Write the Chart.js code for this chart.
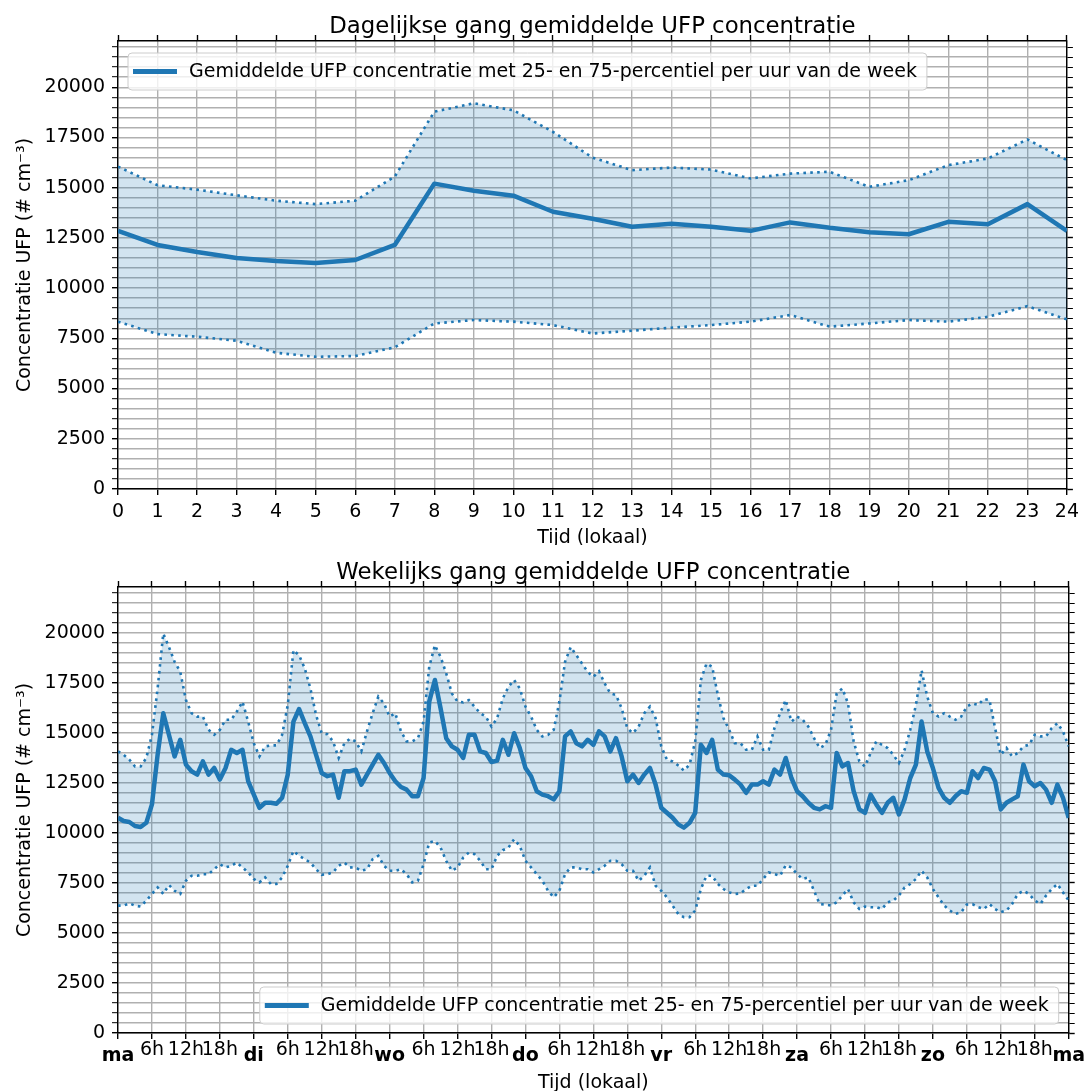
<!DOCTYPE html>
<html lang="nl">
<head>
<meta charset="UTF-8">
<title>Gang gemiddelde UFP concentratie</title>
<script src="https://cdn.jsdelivr.net/npm/chart.js"></script>
<style>
  body { margin: 0; background: #fff; }
  canvas { display: block; }
</style>
</head>
<body>
<canvas id="dagChart" width="1085" height="545"></canvas>
<canvas id="weekChart" width="1085" height="546"></canvas>
<script>
// uur van de dag (0..24)
const dayHours = [0, 1, 2, 3, 4, 5, 6, 7, 8, 9, 10, 11, 12, 13, 14, 15, 16, 17, 18, 19, 20, 21, 22, 23, 24];
const dayMean = [12850, 12150, 11800, 11500, 11350, 11250, 11400, 12150, 15200, 14850, 14600, 13800, 13450,
                 13050, 13200, 13050, 12850, 13270, 13000, 12780, 12680, 13300, 13180, 14180, 12850];
const dayP75 = [16050, 15120, 14900, 14620, 14350, 14180, 14350, 15550, 18780, 19200, 18850, 17780, 16500,
                15870, 16000, 15900, 15460, 15700, 15790, 15040, 15370, 16120, 16450, 17400, 16370];
const dayP25 = [8330, 7710, 7580, 7380, 6780, 6580, 6620, 7050, 8240, 8410, 8330, 8160, 7740,
                7880, 8030, 8160, 8330, 8660, 8080, 8240, 8410, 8330, 8570, 9100, 8440];

// uur van de week (0..168), maandag 0h t/m maandag 0h
const weekMean = [
  10760, 10600, 10550, 10350, 10300, 10510, 11430, 13910, 15990, 14910, 13830, 14660,
  13420, 13090, 12920, 13580, 12920, 13250, 12670, 13250, 14160, 14000, 14160, 12590,
  11920, 11260, 11510, 11510, 11460, 11760, 12920, 15570, 16200, 15490, 14830, 13910,
  13000, 12840, 12920, 11760, 13090, 13090, 13170, 12420, 12920, 13420, 13910, 13500,
  13000, 12590, 12300, 12170, 11840, 11840, 12750, 16570, 17650, 16240, 14740, 14330,
  14160, 13750, 14910, 14910, 14080, 14000, 13550, 13620, 14660, 13910, 14990, 14250,
  13250, 12840, 12090, 11920, 11840, 11680, 12090, 14830, 15080, 14490, 14330, 14660,
  14410, 15080, 14830, 14080, 14740, 13830, 12590, 12920, 12500, 12920, 13250, 12420,
  11260, 11010, 10760, 10430, 10270, 10510, 11010, 14410, 14000, 14660, 13170, 12920,
  12890, 12670, 12420, 12010, 12420, 12420, 12590, 12420, 13170, 12920, 13750, 12750,
  12090, 11840, 11510, 11260, 11180, 11340, 11260, 14000, 13330, 13500, 12090, 11180,
  11010, 11920, 11430, 11010, 11510, 11760, 10930, 11680, 12750, 13420, 15570, 14080,
  13250, 12260, 11760, 11510, 11840, 12090, 12010, 13090, 12750, 13250, 13170, 12590,
  11180, 11510, 11680, 11840, 13420, 12590, 12340, 12500, 12170, 11510, 12420, 11760, 10760
];
const weekP75 = [
  14080, 13910, 13670, 13330, 13330, 13750, 14910, 17230, 19970, 19300, 18560, 18060,
  16650, 15990, 15820, 15820, 15160, 14910, 15160, 15660, 15660, 16070, 16570, 15570,
  14490, 13830, 14330, 14380, 14380, 14910, 16400, 19140, 18890, 18230, 17230, 15900,
  14990, 14940, 14580, 13750, 14490, 14710, 14580, 14080, 15080, 15990, 16820, 16480,
  15820, 15990, 15080, 14580, 14580, 14740, 15570, 18310, 19390, 18810, 17980, 16980,
  16570, 16530, 16650, 16320, 15990, 15820, 15320, 15740, 16730, 17310, 17650, 17230,
  16320, 15820, 15160, 14830, 14910, 15160, 16570, 18560, 19300, 18890, 18470, 18060,
  17810, 18090, 17480, 16980, 16900, 16240, 15240, 14990, 15320, 15990, 16320, 15740,
  14330, 13670, 13580, 13380, 13120, 13420, 14580, 17650, 18470, 18310, 16900, 15740,
  15160, 14490, 14490, 14160, 14160, 14830, 14160, 14160, 15240, 15990, 16650, 15570,
  15820, 15660, 15320, 14740, 14250, 14410, 15160, 16980, 17230, 16480, 14580, 13580,
  13330, 14000, 14580, 14410, 14250, 13910, 13500, 14160, 15160, 16400, 18140, 16820,
  15990, 15820, 15990, 15820, 15660, 15820, 16320, 16480, 16400, 16700, 16650, 15240,
  13910, 14250, 13830, 14000, 14330, 14410, 14910, 14830, 14830, 15240, 15490, 15080, 14330
];
const weekP25 = [
  6370, 6370, 6480, 6370, 6320, 6620, 6950, 7280, 6950, 7400, 7110, 6950,
  7610, 7860, 7860, 7940, 7940, 8190, 8440, 8280, 8360, 8520, 8280, 8030,
  7700, 7530, 7780, 7450, 7450, 7780, 8360, 9100, 8860, 8690, 8520, 8190,
  7910, 7940, 8030, 8360, 8520, 8280, 8270, 8110, 8190, 8690, 8860, 8360,
  8110, 8110, 8190, 7940, 7530, 7610, 8440, 9520, 9600, 9270, 8610, 8110,
  8280, 8770, 9020, 8940, 8610, 8190, 8190, 8860, 9140, 9270, 9690, 9350,
  8610, 8280, 7940, 7610, 7110, 6780, 7110, 7940, 8280, 8280, 8190, 8190,
  8030, 8190, 8360, 8610, 8610, 8440, 8110, 8110, 7610, 7860, 8280, 7360,
  7110, 6780, 6370, 5950, 5790, 5790, 6120, 7200, 7860, 7860, 7450, 7200,
  7030, 6950, 6980, 7200, 7360, 7360, 7700, 8030, 7940, 7860, 8390, 8280,
  7940, 7700, 7780, 7110, 6450, 6420, 6370, 6530, 6870, 7200, 6530, 6200,
  6320, 6290, 6290, 6200, 6530, 6620, 6870, 7280, 7450, 7700, 8110, 7780,
  7200, 6780, 6370, 6120, 5950, 6040, 6420, 6450, 6290, 6200, 6450, 6200,
  6040, 6120, 6450, 6950, 7110, 6950, 6620, 6450, 6870, 7200, 7450, 7030, 6620
];
// tick labels om de 6 uur
const weekTickLabels = [
  'ma', '6h', '12h', '18h', 'di', '6h', '12h', '18h', 'wo', '6h', '12h', '18h',
  'do', '6h', '12h', '18h', 'vr', '6h', '12h', '18h', 'za', '6h', '12h', '18h',
  'zo', '6h', '12h', '18h', 'ma'
];
// gelabelde y-ticks; tussenliggende (minor) ticks om de 500
const yTickLabels = [0, 2500, 5000, 7500, 10000, 12500, 15000, 17500, 20000];
const yMinorStep = 500;

const legendText = 'Gemiddelde UFP concentratie met 25- en 75-percentiel per uur van de week';
const blue = '#1f77b4';
const bandFill = 'rgba(31, 119, 180, 0.2)';
const gridColor = '#b0b0b0';
const Y_MAX = 22300;
const FS = 19;

Chart.defaults.font.family = '"DejaVu Sans", sans-serif';
Chart.defaults.color = '#000';

function toPoints(xs, ys) {
    return ys.map((y, i) => ({ x: xs[i], y: y }));
}

function makeDatasets(xs, mean, p25, p75) {
    return [
        {
            label: legendText,
            data: toPoints(xs, mean),
            borderColor: blue,
            borderWidth: 4.5,
            borderJoinStyle: 'round',
            pointRadius: 0,
            fill: false
        },
        {
            label: '25-percentiel',
            data: toPoints(xs, p25),
            borderColor: blue,
            borderWidth: 2.6,
            borderDash: [2.6, 4.3],
            pointRadius: 0,
            fill: false
        },
        {
            label: '75-percentiel',
            data: toPoints(xs, p75),
            borderColor: blue,
            borderWidth: 2.6,
            borderDash: [2.6, 4.3],
            pointRadius: 0,
            backgroundColor: bandFill,
            fill: 1
        }
    ];
}

// titel + legenda in de stijl van matplotlib
function decorPlugin(title, corner) {
    return {
        id: 'decor',
        afterDraw(chart) {
            const ctx = chart.ctx;
            const a = chart.chartArea;
            ctx.save();
            ctx.fillStyle = '#000';
            ctx.font = '22.8px "DejaVu Sans"';
            ctx.textAlign = 'center';
            ctx.textBaseline = 'alphabetic';
            ctx.fillText(title, (a.left + a.right) / 2, a.top - 8);

            ctx.font = FS + 'px "DejaVu Sans"';
            const tw = ctx.measureText(legendText).width;
            const w = 61 + tw + 10;
            const h = 37;
            const x = corner === 'upper left' ? a.left + 10 : a.right - 10 - w;
            const y = corner === 'upper left' ? a.top + 12 : a.bottom - 9 - h;
            ctx.beginPath();
            ctx.roundRect(x, y, w, h, 4);
            ctx.fillStyle = 'rgba(255, 255, 255, 0.8)';
            ctx.fill();
            ctx.strokeStyle = '#cccccc';
            ctx.lineWidth = 1;
            ctx.stroke();

            ctx.beginPath();
            ctx.moveTo(x + 5, y + h / 2);
            ctx.lineTo(x + 49, y + h / 2);
            ctx.strokeStyle = blue;
            ctx.lineWidth = 5;
            ctx.stroke();

            ctx.fillStyle = '#000';
            ctx.textAlign = 'left';
            ctx.textBaseline = 'middle';
            ctx.fillText(legendText, x + 61, y + h / 2 + 1);
            ctx.restore();
        }
    };
}

function yTicks(scale) {
    const vals = [];
    for (let v = 0; v <= Y_MAX; v += yMinorStep) vals.push(v);
    scale.ticks = vals.map(v => ({ value: v }));
}

function yScales() {
    const isMajor = ctx => ctx.tick && yTickLabels.includes(ctx.tick.value);
    return {
        y: {
            type: 'linear', position: 'left', min: 0, max: Y_MAX,
            afterBuildTicks: yTicks,
            ticks: {
                autoSkip: false, padding: 7, font: { size: FS },
                callback: v => (yTickLabels.includes(v) ? String(v) : '')
            },
            grid: {
                color: gridColor, lineWidth: 1.4, tickLength: 6, tickColor: '#000',
                tickWidth: ctx => (isMajor(ctx) ? 1.4 : 1)
            },
            border: { color: '#000', width: 1.4 },
            title: {
                display: true, text: 'Concentratie UFP (# cm⁻³)',
                font: { size: FS }, padding: { top: 0, bottom: 0 }
            },
            afterFit: s => { s.width = 104; }
        },
        y2: {
            type: 'linear', position: 'right', min: 0, max: Y_MAX,
            afterBuildTicks: yTicks,
            ticks: { display: false },
            grid: {
                drawOnChartArea: false, tickLength: 6, tickColor: '#000',
                tickWidth: ctx => (isMajor(ctx) ? 1.4 : 1)
            },
            border: { color: '#000', width: 1.4 },
            afterFit: s => { s.width = 15; }
        }
    };
}

// bovenste grafiek: dagelijkse gang
new Chart(document.getElementById('dagChart'), {
    type: 'line',
    data: { datasets: makeDatasets(dayHours, dayMean, dayP25, dayP75) },
    options: {
        responsive: false,
        animation: false,
        devicePixelRatio: 1,
        layout: { padding: { top: 35, left: 14, right: 0, bottom: 0 } },
        plugins: { legend: { display: false }, tooltip: { enabled: false } },
        scales: Object.assign({
            x: {
                type: 'linear', position: 'bottom', min: 0, max: 24,
                ticks: { stepSize: 1, autoSkip: false, maxRotation: 0, minRotation: 0, padding: 6, font: { size: FS } },
                grid: { color: gridColor, lineWidth: 1.4, tickLength: 6, tickColor: '#000', tickWidth: 1.4 },
                border: { color: '#000', width: 1.4 },
                title: { display: true, text: 'Tijd (lokaal)', font: { size: FS }, padding: { top: 0, bottom: -4 } },
                afterFit: s => { s.height = 56; }
            },
            x2: {
                type: 'linear', position: 'top', min: 0, max: 24,
                ticks: { stepSize: 1, display: false },
                grid: { drawOnChartArea: false, tickLength: 6, tickColor: '#000', tickWidth: 1.4 },
                border: { color: '#000', width: 1.4 },
                afterFit: s => { s.height = 6; }
            }
        }, yScales())
    },
    plugins: [decorPlugin('Dagelijkse gang gemiddelde UFP concentratie', 'upper left')]
});

// onderste grafiek: wekelijkse gang
const weekHours = weekMean.map((v, i) => i);

new Chart(document.getElementById('weekChart'), {
    type: 'line',
    data: { datasets: makeDatasets(weekHours, weekMean, weekP25, weekP75) },
    options: {
        responsive: false,
        animation: false,
        devicePixelRatio: 1,
        layout: { padding: { top: 36, left: 14, right: 0, bottom: 0 } },
        plugins: { legend: { display: false }, tooltip: { enabled: false } },
        scales: Object.assign({
            x: {
                type: 'linear', position: 'bottom', min: 0, max: 168,
                ticks: {
                    stepSize: 6, autoSkip: false, maxRotation: 0, minRotation: 0, padding: 0,
                    callback: v => weekTickLabels[Math.round(v / 6)],
                    font: ctx => (ctx.tick && ctx.tick.value % 24 === 0
                        ? { size: FS, weight: 'bold', lineHeight: 1.8 }
                        : { size: FS, lineHeight: 1.2 })
                },
                grid: { color: gridColor, lineWidth: 1.4, tickLength: 6, tickColor: '#000', tickWidth: 1.4 },
                border: { color: '#000', width: 1.4 },
                title: { display: true, text: 'Tijd (lokaal)', font: { size: FS }, padding: { top: 0, bottom: -3 } },
                afterFit: s => { s.height = 58; }
            },
            x2: {
                type: 'linear', position: 'top', min: 0, max: 168,
                ticks: { stepSize: 6, display: false },
                grid: { drawOnChartArea: false, tickLength: 6, tickColor: '#000', tickWidth: 1.4 },
                border: { color: '#000', width: 1.4 },
                afterFit: s => { s.height = 6; }
            }
        }, yScales())
    },
    plugins: [decorPlugin('Wekelijks gang gemiddelde UFP concentratie', 'lower right')]
});
</script>
</body>
</html>
